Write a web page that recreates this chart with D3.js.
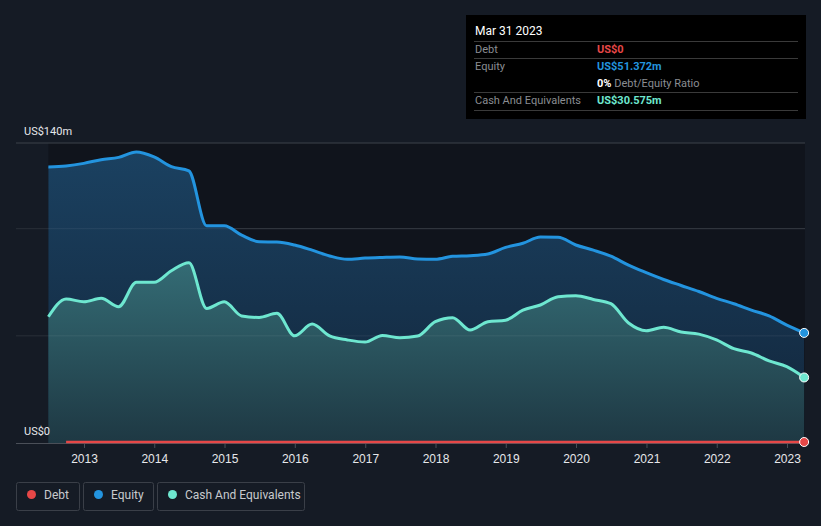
<!DOCTYPE html>
<html>
<head>
<meta charset="utf-8">
<script src="https://cdn.jsdelivr.net/npm/d3@7"></script>
<style>
  html, body { margin: 0; padding: 0; background: #151b25; }
  svg { display: block; font-family: Roboto, "Noto Sans", sans-serif; }
</style>
</head>
<body>
<svg id="chart" width="821" height="526"></svg>
<script>
// ---- data (quarter ends, US$ millions) ----
const quarters = [
  "2012-06-30","2012-09-30","2012-12-31","2013-03-31","2013-06-30","2013-09-30","2013-12-31",
  "2014-03-31","2014-06-30","2014-09-30","2014-12-31","2015-03-31","2015-06-30","2015-09-30",
  "2015-12-31","2016-03-31","2016-06-30","2016-09-30","2016-12-31","2017-03-31","2017-06-30",
  "2017-09-30","2017-12-31","2018-03-31","2018-06-30","2018-09-30","2018-12-31","2019-03-31",
  "2019-06-30","2019-09-30","2019-12-31","2020-03-31","2020-06-30","2020-09-30","2020-12-31",
  "2021-03-31","2021-06-30","2021-09-30","2021-12-31","2022-03-31","2022-06-30","2022-09-30",
  "2022-12-31","2023-03-31"
];
const equity = [
  128.8, 129.3, 130.5, 132.2, 133.3, 135.8, 133.5,
  129.0, 127.0, 101.4, 101.4, 97.0, 93.9, 93.8,
  92.4, 90.0, 87.3, 85.7, 86.3, 86.6, 86.8,
  85.9, 85.7, 87.1, 87.4, 88.2, 91.3, 93.2,
  96.1, 96.0, 92.4, 90.0, 87.2, 83.0, 79.5,
  76.3, 73.5, 70.7, 67.5, 65.0, 62.0, 59.3,
  55.0, 51.372
];
const cash = [
  58.9, 67.2, 65.9, 67.5, 63.6, 75.0, 75.0,
  80.4, 84.1, 62.8, 65.9, 59.3, 58.6, 60.5,
  50.0, 55.5, 50.0, 48.1, 47.1, 50.2, 49.1,
  49.9, 56.6, 58.5, 52.7, 56.6, 57.3, 62.0,
  64.4, 68.3, 68.7, 67.0, 65.0, 56.0, 52.4,
  54.0, 51.8, 50.8, 48.1, 44.0, 42.0, 38.3,
  35.6, 30.575
];
// debt reported from Sep 2012 onwards (null = not reported)
const debt = [null].concat(new Array(43).fill(0));
const yearTicks = [2013,2014,2015,2016,2017,2018,2019,2020,2021,2022,2023];
const yLabels = [{v:140, t:"US$140m"}, {v:0, t:"US$0"}];
const gridValues = [50, 100];
const legendItems = ["Debt", "Equity", "Cash And Equivalents"];
const tooltipDate = "Mar 31 2023";

// ---- build ----
const parse = d3.timeParse("%Y-%m-%d");
const dates = quarters.map(parse);
const rows = dates.map((d, i) => ({date: d, equity: equity[i], cash: cash[i], debt: debt[i]}));

const colors = { debt: "#e64747", equity: "#2394df", cash: "#6ee7d0" };
const svg = d3.select("#chart");

const x = d3.scaleTime()
  .domain([new Date(2013,0,1), new Date(2023,0,1)])
  .range([84, 787]);
const y = d3.scaleLinear().domain([0, 140]).range([443, 143]);
const plotLeft = 16, plotRight = 805;

const defs = svg.append("defs");
const gE = defs.append("linearGradient").attr("id","gE").attr("gradientUnits","userSpaceOnUse")
  .attr("x1",0).attr("x2",0).attr("y1",y(140)).attr("y2",y(0));
gE.append("stop").attr("offset","0%").attr("stop-color","#1b4262");
gE.append("stop").attr("offset","100%").attr("stop-color","#12253a");
const gC = defs.append("linearGradient").attr("id","gC").attr("gradientUnits","userSpaceOnUse")
  .attr("x1",0).attr("x2",0).attr("y1",y(85)).attr("y2",y(0));
gC.append("stop").attr("offset","0%").attr("stop-color","#346c75");
gC.append("stop").attr("offset","100%").attr("stop-color","#1e3843");

// dark plot background over data range
const x0 = x(dates[0]), x1 = x(dates[dates.length-1]);
svg.append("rect").attr("x", x0).attr("y", y(140)).attr("width", plotRight - x0)
  .attr("height", y(0) - y(140)).attr("fill", "#10141c");

// gridlines
svg.selectAll(".grid").data(gridValues).join("line")
  .attr("x1", plotLeft).attr("x2", plotRight)
  .attr("y1", d => y(d)).attr("y2", d => y(d))
  .attr("stroke", "#2a3039").attr("stroke-width", 1);
svg.append("line").attr("x1", plotLeft).attr("x2", plotRight)
  .attr("y1", y(140)).attr("y2", y(140)).attr("stroke", "#3d424b").attr("stroke-width", 1);

const curve = d3.curveMonotoneX;
const areaE = d3.area().x(d => x(d.date)).y0(y(0)).y1(d => y(d.equity)).curve(curve);
const areaC = d3.area().x(d => x(d.date)).y0(y(0)).y1(d => y(d.cash)).curve(curve);
const lineE = d3.line().x(d => x(d.date)).y(d => y(d.equity)).curve(curve);
const lineC = d3.line().x(d => x(d.date)).y(d => y(d.cash)).curve(curve);
const lineD = d3.line().defined(d => d.debt !== null).x(d => x(d.date)).y(d => y(d.debt)).curve(curve);

svg.append("path").datum(rows).attr("d", areaE).attr("fill", "url(#gE)");
svg.append("path").datum(rows).attr("d", areaC).attr("fill", "url(#gC)");
// gridlines over the fills (subtle)
svg.selectAll(".grid2").data(gridValues).join("line")
  .attr("x1", x0).attr("x2", plotRight)
  .attr("y1", d => y(d)).attr("y2", d => y(d))
  .attr("stroke", "#ffffff").attr("stroke-opacity", 0.07).attr("stroke-width", 1);

svg.append("path").datum(rows).attr("d", lineE).attr("fill","none")
  .attr("stroke", colors.equity).attr("stroke-width", 3);
svg.append("path").datum(rows).attr("d", lineC).attr("fill","none")
  .attr("stroke", colors.cash).attr("stroke-width", 3);

// x axis
const xAxis = d3.axisBottom(x)
  .tickValues(yearTicks.map(yv => new Date(yv,0,1)))
  .tickFormat(d3.timeFormat("%Y")).tickSize(5).tickPadding(6);
const ax = svg.append("g").attr("transform", `translate(0,${y(0)})`).call(xAxis);
ax.select(".domain").remove();
ax.selectAll(".tick line").attr("stroke", "#4a4f58");
ax.selectAll(".tick text").attr("fill", "#e6e8eb").attr("font-size", 12);
svg.append("line").attr("x1", plotLeft).attr("x2", plotRight)
  .attr("y1", y(0) + 0.5).attr("y2", y(0) + 0.5).attr("stroke", "#4a4f58");

svg.append("path").datum(rows).attr("d", lineD).attr("fill","none")
  .attr("stroke", colors.debt).attr("stroke-width", 2.5).attr("transform","translate(0,-1)");

// end markers
const last = rows[rows.length-1];
[["equity", last.equity], ["cash", last.cash], ["debt", last.debt]].forEach(([k, v]) => {
  svg.append("circle").attr("cx", x(last.date)).attr("cy", y(v) - (k === "debt" ? 1 : 0)).attr("r", 4.5)
    .attr("fill", colors[k]).attr("stroke", "#ffffff").attr("stroke-width", 1);
});

// y labels
svg.selectAll(".ylab").data(yLabels).join("text")
  .attr("x", 24).attr("y", d => y(d.v) - 8)
  .attr("fill", "#e6e8eb").attr("font-size", 11).text(d => d.t);

// tooltip box
const tt = svg.append("g");
tt.append("rect").attr("x", 466).attr("y", 15).attr("width", 340).attr("height", 104).attr("fill", "#000000");
tt.append("text").attr("x", 475).attr("y", 35).attr("fill", "#ffffff").attr("font-size", 12).text(tooltipDate);
[41, 58, 92, 110].forEach(yy => tt.append("line").attr("x1", 474).attr("x2", 798)
  .attr("y1", yy + 0.5).attr("y2", yy + 0.5).attr("stroke", "#3a3a3a"));
const ttRows = [
  {label: "Debt", value: "US$0", color: colors.debt, y: 53},
  {label: "Equity", value: "US$51.372m", color: colors.equity, y: 70},
  {label: "Cash And Equivalents", value: "US$30.575m", color: colors.cash, y: 104}
];
ttRows.forEach(r => {
  tt.append("text").attr("x", 475).attr("y", r.y).attr("fill", "#8a8d92").attr("font-size", 11).text(r.label);
  tt.append("text").attr("x", 597).attr("y", r.y).attr("fill", r.color).attr("font-size", 11)
    .attr("font-weight", "bold").text(r.value);
});
const ratio = tt.append("text").attr("x", 597).attr("y", 87).attr("font-size", 11);
ratio.append("tspan").attr("fill", "#ffffff").attr("font-weight", "bold").text("0% ");
ratio.append("tspan").attr("fill", "#8a8d92").text("Debt/Equity Ratio");

// legend
const legendBoxes = [
  {x: 16, w: 63, key: "debt"},
  {x: 83, w: 70, key: "equity"},
  {x: 157, w: 147, key: "cash"}
];
legendItems.forEach((name, i) => {
  const b = legendBoxes[i];
  const g = svg.append("g");
  g.append("rect").attr("x", b.x + 0.5).attr("y", 482.5).attr("width", b.w).attr("height", 28)
    .attr("rx", 2).attr("fill", "none").attr("stroke", "#3a3f48");
  g.append("circle").attr("cx", b.x + 15.5).attr("cy", 494.5).attr("r", 4.5).attr("fill", colors[b.key]);
  g.append("text").attr("x", b.x + 28).attr("y", 499).attr("fill", "#c8cacd")
    .attr("font-size", 12).text(name);
});
</script>
</body>
</html>
